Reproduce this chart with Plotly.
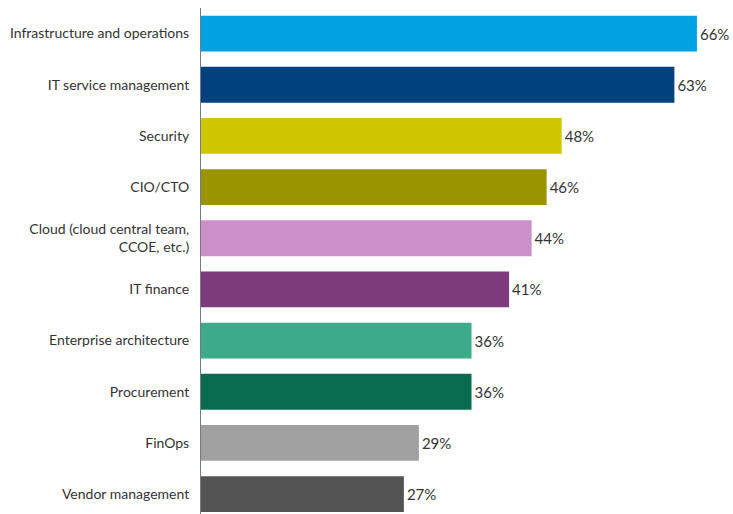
import plotly.graph_objects as go

categories = [
    'Infrastructure and operations',
    'IT service management',
    'Security',
    'CIO/CTO',
    'Cloud (cloud central team,<br>CCOE, etc.)',
    'IT finance',
    'Enterprise architecture',
    'Procurement',
    'FinOps',
    'Vendor management',
]
values = [66, 63, 48, 46, 44, 41, 36, 36, 29, 27]
colors = ['#00A2E1', '#00427D', '#CFC600', '#9A9400', '#CC8FCA',
          '#7C3C7C', '#3DAA8A', '#086D50', '#A0A0A0', '#545454']

# bottom-to-top order for plotly
cats = categories[::-1]
vals = values[::-1]
cols = colors[::-1]

fig = go.Figure(go.Bar(
    x=vals,
    y=cats,
    orientation='h',
    marker=dict(color=cols, line=dict(width=0)),
    text=[f'{v}%' for v in vals],
    textposition='outside',
    constraintext='none',
    cliponaxis=False,
    textfont=dict(size=15, color='#333333'),
))

fig.update_layout(
    width=733,
    height=514,
    margin=dict(l=201, r=0, t=8, b=0, autoexpand=False),
    plot_bgcolor='white',
    paper_bgcolor='white',
    font=dict(family='Lato, Noto Sans, sans-serif', size=14, color='#333333'),
    bargap=0.3,
    showlegend=False,
    xaxis=dict(range=[0, 70.8], visible=False, automargin=False),
    yaxis=dict(
        type='category',
        categoryorder='array',
        categoryarray=cats,
        range=[-0.39, 9.5],
        automargin=False,
        showline=True,
        linecolor='#6E7C8C',
        linewidth=1,
        ticks='',
        ticklabelstandoff=8,
        tickfont=dict(size=14, color='#333333'),
        showgrid=False,
    ),
)

# drop the default body margin / scrollbars so the figure fills the window
fig.write_html('out.html',
               config={'displayModeBar': False},
               post_script="document.body.style.margin='0';"
                           "document.body.style.overflow='hidden';")
